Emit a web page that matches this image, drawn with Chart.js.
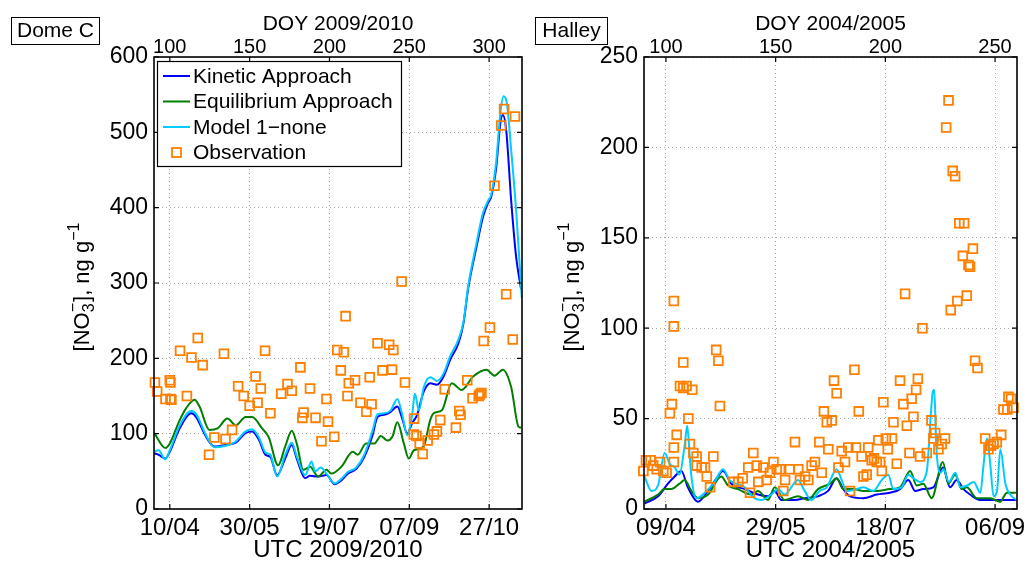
<!DOCTYPE html>
<html>
<head>
<meta charset="utf-8">
<script src="https://cdn.jsdelivr.net/npm/chart.js@4.4.0/dist/chart.umd.min.js"></script>
<style>
  html, body { margin: 0; padding: 0; background: #fff; }
  #wrap { position: relative; width: 1027px; height: 562px; overflow: hidden; }
  #cDome { position: absolute; left: 0; top: 0; }
  #cHal { position: absolute; left: 530px; top: 0; }
</style>
</head>
<body>
<div id="wrap">
  <canvas id="cDome" width="530" height="562"></canvas>
  <canvas id="cHal" width="497" height="562"></canvas>
</div>
<script>
// --- fonts & colours ---
const FONT = '"Liberation Sans", Arial, Helvetica, sans-serif';
const KIN_C = '#0000ff';
const EQ_C = '#007f00';
const MOD_C = '#00ccff';
const OBS_C = '#ff7f00';
const GRID_C = '#a8a8a8';

// --- Dome C (DOY 2009/2010) ---
const domeTickDoy = [100, 150, 200, 250, 300];
const domeTickDate = ['10/04', '30/05', '19/07', '07/09', '27/10'];

const domeKinDoy = [90.2,93,97.2,100,106.2,113.4,116.5,122.7,127.9,135.1,141.3,147.5,151.6,155.8,159.9,163,167.2,172.3,176.4,179.5,184.7,187.8,193,198.1,203.3,207.4,211.5,216.7,221.8,227,230.1,234.2,238.4,242.5,245.6,248.7,251.8,254.9,259.1,263.2,267.3,271.5,275.6,280.8,283.9,286.9,292.1,296.2,299.3,301.4,304.5,307,308.6,310.7,313.8,316.9,320];
const domeKinVal = [74,72,67,76,107,127,122,96,83,85,88,101,103,92,72,69,45,67,85,67,41,44,43,45,33,38,47,53,69,98,122,125,129,136,120,100,114,125,156,167,165,176,198,220,246,293,348,388,406,415,454,512,523,503,410,335,292];

const domeEqDoy = [90.2,97.2,100,106.2,110.3,115.5,118.6,124.8,129.9,136.1,141.3,147.5,151.6,157.8,162,167.8,172.3,176.4,179.5,183.6,187.8,193,198.1,201.2,207.4,214.6,217.7,222.9,228.1,232.2,236.3,239.4,242.5,246.6,249.7,252.9,259,263.1,265.2,270.4,276.6,282.8,290,298.3,303.4,308.6,313.8,318.5,320];
const domeEqVal = [101,81,87,118,134,145,136,105,107,120,111,122,122,107,95,58,83,104,87,52,56,43,52,47,56,76,72,87,87,97,91,96,115,87,67,78,83,118,127,131,167,158,176,185,177,185,162,109,108];

const domeModDoy = [90.2,93,97,100,106,113.4,116.5,122.7,127.9,135,141,147.5,151.6,155.8,159.9,163,167.2,172.3,176.4,179.5,184.7,188.8,191,194.5,198.1,203.3,207.4,211.5,216.7,221.8,227,230.1,234.2,238.4,242.5,245.6,248.7,251.8,253.5,256,259.1,263.2,267.3,271.5,275.6,280.8,283.9,287,292,296,299.3,301.4,304.5,307,309,311,313.8,316.9,320.5];
const domeModVal = [76,78,66,78,110,130,126,98,82,84,89,103,106,95,75,72,43,72,88,70,45,63,50,55,47,34,40,49,55,72,104,126,127,131,146,125,98,125,153,131,162,175,170,180,203,225,248,297,352,392,409,418,462,525,548,540,477,397,280];

const domeObsDoy = [90.7,92.1,97.3,100,100.4,100.4,101,106.4,110.7,113.6,117.5,120.6,124.6,127.9,133.9,134.9,139,142.8,146.3,150,153.7,155,157,159.7,163,169.8,173.7,176.4,181.8,183,183.8,187.8,191.3,195,198.1,199.1,203,204.9,207.1,209,210.1,211.3,212.1,216,219.4,223.1,225.2,226.4,230.1,233.2,237.4,239.2,240,245.2,247.3,252.8,253,254.5,256.5,258.4,261.5,265.4,267.3,269.4,272.2,279.2,281.3,282.1,286.3,289.6,293.5,294.1,295.2,296.6,300.5,303.4,307.6,309.4,310.7,314.8,316.2];
const domeObsVal = [168,156,146,171,168,146,145,210,150,201,227,191,72,95,206,93,105,163,150,137,176,141,160,210,127,153,166,157,188,121,128,160,121,90,146,116,96,211,184,208,256,150,167,171,141,129,175,139,220,184,218,185,211,302,168,99,120,97,87,73,91,99,103,118,159,108,130,125,171,147,150,152,154,223,241,429,509,531,285,225,521];

// --- Halley (DOY 2004/2005) ---
const halTickDoy = [100, 150, 200, 250];
const halTickDate = ['09/04', '29/05', '18/07', '06/09'];

const halKinDoy = [90.2,96.4,100.9,104,107,110,114.6,119.2,123.7,126,129.8,135.9,142,146.5,149.6,152.6,158.7,163.2,169.3,173.9,177.8,180.8,183.9,190,196.1,202.1,206.7,210.5,213.5,217.3,221.9,226.2,229.5,232.5,235.6,238.6,243.2,249.3,255.4,259.8];
const halKinVal = [3,7,14,18,21,12,4,10,18,21,14,11,8,7,10,5,5,6,7,10,17,11,7,6,8,9,11,16,10,11,12,23,12,16,11,8,5,5,5,5];

const halEqDoy = [90.2,96.4,99.4,102.4,106.2,108.5,111.6,114.6,119.2,125.2,128.3,132.8,138.9,142,146.5,149.6,154.1,160.2,164.8,169.3,174.8,177.8,180.8,185.4,190,196.1,202.1,206.7,211.3,214.3,217.3,221.1,226.2,228.7,231.8,234.8,237.1,241.7,247.8,252.3,255.4,259.5];
const halEqVal = [4,8,11,11,14,16,10,6,8,18,13,11,8,10,5,12,5,7,5,11,14,17,11,11,10,10,11,12,21,13,14,6,26,14,19,11,12,6,6,4,9,9];

const halModDoy = [90.2,93.4,96.4,99.4,101.7,104,106.2,108.5,109.7,110.8,111.6,113.9,117.7,122.2,126,129,135.9,140.4,143.5,148,151.1,154.1,160.2,163.2,166.3,170,173.3,177.8,180.1,182.4,186.9,190,194.5,198.3,201.3,203.6,207.4,210.5,212.8,215.8,218.9,220.5,221.5,222.3,223.2,225.1,226.6,228.9,231.9,234.2,237.3,240.3,243.3,244.8,246.3,247.8,249.3,250.9,252.4,254.7,256.9,259.8];
const halModVal = [18,10,13,31,25,23,19,35,46,30,18,6,9,15,22,16,12,6,5,8,11,8,16,10,5,10,12,22,16,10,11,12,10,16,19,11,12,19,17,15,21,48,64,66,35,20,22,15,20,12,13,15,9,25,39,25,7,10,33,14,8,5];

const halObsDoy = [89.7,90.9,93,94.2,95.8,97.3,98.8,100.3,101.8,102.7,103.6,103.6,103.6,103.6,104.9,106.4,107.9,107.9,109.4,110.2,110.9,112,112.5,114,114,116.3,117.8,118.6,120.1,121.6,122.9,123.9,124.6,130.7,133,135,137.5,138.3,139.8,141.4,142.1,144.4,145.9,147.4,149,150.5,152,153.5,154.3,156.5,158.8,160.3,161.1,163.4,164.9,166.4,167.9,169.9,171,172,173.3,174,175.6,176.6,177.8,178.6,180.1,181.6,183.1,183.9,185.9,186.6,187.9,189.2,190,191.5,192.2,193.8,194.8,196.1,196.8,197.6,198.4,199.1,200.2,201.1,203,203.7,205.2,206.7,208.2,209,209.8,211,212,212.8,214,214.8,215.8,216.9,218.9,221,221.9,222.7,224.2,225.7,227.2,227.7,228.8,229.8,230.7,231.8,232.8,233.7,235.3,235.9,237.1,237.9,238.6,239.9,240.9,242,245.5,247,248.1,249.3,250.8,252.8,253.8,255.6,256.1,257.3,258.4];
const halObsVal = [21,27,27,24,22,26,21,20,53,58,115,101,34,26,41,68,81,67,68,50,36,66,31,29,24,23,23,18,12,29,88,82,57,15,15,17,23,9,31,24,15,23,16,20,26,22,22,10,16,22,37,22,16,18,16,24,26,37,20,54,48,33,49,71,64,23,32,26,34,10,77,34,54,29,18,19,34,27,28,26,38,26,21,59,39,33,39,48,25,71,58,119,46,31,61,51,66,72,29,100,31,49,39,42,33,36,39,211,226,110,187,184,115,158,140,158,118,135,134,144,82,78,39,33,35,36,37,41,55,55,62,61,56];

// --- helpers ---
function pts(xs, ys) { return xs.map((x, i) => ({ x: x, y: ys[i] })); }

function lineSet(label, xs, ys, color, order) {
  return {
    label: label, data: pts(xs, ys), showLine: true,
    borderColor: color, backgroundColor: color, borderWidth: 2,
    pointRadius: 0, cubicInterpolationMode: 'monotone', order: order
  };
}

function obsSet(xs, ys) {
  return {
    label: 'Observation', data: pts(xs, ys), showLine: false,
    pointStyle: 'rect', pointRadius: 6.2, borderWidth: 1.8,
    borderColor: OBS_C, backgroundColor: 'rgba(0,0,0,0)', order: 0, clip: 12
  };
}

// y label: [NO3-], ng g-1 with sub/superscripts
function drawYTitle(ctx, cx, cy) {
  const big = '22px ' + FONT, small = '16px ' + FONT;
  ctx.font = big;
  const w1 = ctx.measureText('[NO').width;
  const w2 = ctx.measureText('], ng g').width;
  ctx.font = small;
  const w3 = Math.max(ctx.measureText('3').width, ctx.measureText('\u2212').width);
  const w4 = ctx.measureText('\u22121').width;
  const total = w1 + w3 + 1 + w2 + w4;
  ctx.save();
  ctx.translate(cx, cy);
  ctx.rotate(-Math.PI / 2);
  ctx.fillStyle = '#000';
  ctx.textBaseline = 'alphabetic';
  ctx.textAlign = 'left';
  const b = 8;
  let x = -total / 2;
  ctx.font = big; ctx.fillText('[NO', x, b); x += w1;
  ctx.font = small; ctx.fillText('3', x, b + 5); ctx.fillText('\u2212', x, b - 11); x += w3 + 1;
  ctx.font = big; ctx.fillText('], ng g', x, b); x += w2;
  ctx.font = small; ctx.fillText('\u22121', x, b - 10);
  ctx.restore();
}

// frame, inward ticks, site tag, y label and legend
const decor = {
  id: 'decor',
  afterDatasetsDraw(chart, args, o) {
    const { ctx, chartArea: a, scales } = chart;
    ctx.save();
    ctx.strokeStyle = '#000';
    ctx.lineWidth = 1.6;
    ctx.strokeRect(a.left, a.top, a.right - a.left, a.bottom - a.top);
    ctx.lineWidth = 1.2;
    ctx.beginPath();
    scales.x.ticks.forEach(t => {
      const p = scales.x.getPixelForValue(t.value);
      ctx.moveTo(p, a.bottom); ctx.lineTo(p, a.bottom - 5);
      ctx.moveTo(p, a.top); ctx.lineTo(p, a.top + 5);
    });
    scales.y.ticks.forEach(t => {
      const p = scales.y.getPixelForValue(t.value);
      ctx.moveTo(a.left, p); ctx.lineTo(a.left + 5, p);
      ctx.moveTo(a.right, p); ctx.lineTo(a.right - 5, p);
    });
    ctx.stroke();

    // site tag box
    const tb = o.tagBox;
    ctx.fillStyle = '#fff';
    ctx.fillRect(tb[0], tb[1], tb[2], tb[3]);
    ctx.lineWidth = 1;
    ctx.strokeRect(tb[0] + 0.5, tb[1] + 0.5, tb[2], tb[3]);
    ctx.fillStyle = '#000';
    ctx.font = '21px ' + FONT;
    ctx.textAlign = 'center';
    ctx.textBaseline = 'middle';
    ctx.fillText(o.tag, tb[0] + tb[2] / 2 + 0.5, tb[1] + tb[3] / 2 + 1);

    drawYTitle(ctx, o.ylabelX, (a.top + a.bottom) / 2 + 4);

    if (o.legend) {
      const lb = o.legend;
      ctx.fillStyle = '#fff';
      ctx.fillRect(lb[0], lb[1], lb[2], lb[3]);
      ctx.strokeStyle = '#000';
      ctx.lineWidth = 1.2;
      ctx.strokeRect(lb[0] + 0.5, lb[1] + 0.5, lb[2], lb[3]);
      ctx.font = '21px ' + FONT;
      ctx.textAlign = 'left';
      ctx.textBaseline = 'middle';
      chart.data.datasets.forEach((ds, i) => {
        const y = lb[1] + 15 + i * 25.5;
        if (ds.showLine) {
          ctx.strokeStyle = ds.borderColor;
          ctx.lineWidth = 2;
          ctx.beginPath(); ctx.moveTo(lb[0] + 6, y); ctx.lineTo(lb[0] + 33, y); ctx.stroke();
        } else {
          ctx.strokeStyle = ds.borderColor;
          ctx.lineWidth = 1.8;
          ctx.strokeRect(lb[0] + 15, y - 4.5, 9, 9);
        }
        ctx.fillStyle = '#000';
        ctx.fillText(ds.label, lb[0] + 36, y + 1);
      });
    }
    ctx.restore();
  }
};

function makeChart(id, cfg) {
  const tickFont = (size) => ({ family: FONT, size: size, lineHeight: 1 });
  return new Chart(document.getElementById(id), {
    type: 'scatter',
    data: { datasets: cfg.datasets },
    options: {
      responsive: false,
      animation: false,
      events: [],
      layout: { padding: { left: 0, right: cfg.padRight, top: 0, bottom: 0 } },
      scales: {
        x: {
          type: 'linear', position: 'bottom', min: cfg.xmin, max: cfg.xmax,
          afterBuildTicks: s => { s.ticks = cfg.tickDoy.map(v => ({ value: v })); },
          afterFit: s => { s.height = 53; s.paddingLeft = 0; s.paddingRight = 0; },
          ticks: {
            autoSkip: false, maxRotation: 0, minRotation: 0, padding: 7, color: '#000',
            font: tickFont(24),
            callback: v => cfg.tickDate[cfg.tickDoy.indexOf(v)]
          },
          grid: { drawTicks: false, color: GRID_C, lineWidth: 1 },
          border: { display: false, dash: [1, 3] },
          title: { display: true, text: cfg.bottomTitle, color: '#000', font: tickFont(24), padding: 0 }
        },
        x2: {
          type: 'linear', position: 'top', min: cfg.xmin, max: cfg.xmax,
          afterBuildTicks: s => { s.ticks = cfg.tickDoy.map(v => ({ value: v })); },
          afterFit: s => { s.height = 57; s.paddingLeft = 0; s.paddingRight = 0; },
          ticks: { autoSkip: false, maxRotation: 0, minRotation: 0, padding: 0, color: '#000', font: tickFont(20) },
          grid: { display: false, drawTicks: false },
          border: { display: false },
          title: { display: true, text: cfg.topTitle, color: '#000', font: tickFont(21), padding: { top: 14, bottom: 0 } }
        },
        y: {
          type: 'linear', min: 0, max: cfg.ymax,
          afterFit: s => { s.width = cfg.yWidth; s.paddingTop = 0; s.paddingBottom = 0; },
          ticks: { stepSize: cfg.ystep, padding: 6, color: '#000', font: tickFont(23) },
          grid: { drawTicks: false, color: GRID_C, lineWidth: 1 },
          border: { display: false, dash: [1, 3] }
        }
      },
      plugins: {
        legend: { display: false },
        tooltip: { enabled: false },
        decor: cfg.decor
      }
    },
    plugins: [decor]
  });
}

makeChart('cDome', {
  datasets: [
    lineSet('Kinetic Approach', domeKinDoy, domeKinVal, KIN_C, 3),
    lineSet('Equilibrium Approach', domeEqDoy, domeEqVal, EQ_C, 2),
    lineSet('Model 1\u2212none', domeModDoy, domeModVal, MOD_C, 1),
    obsSet(domeObsDoy, domeObsVal)
  ],
  xmin: 90.1, xmax: 320.6, ymax: 600, ystep: 100,
  tickDoy: domeTickDoy, tickDate: domeTickDate,
  topTitle: 'DOY 2009/2010', bottomTitle: 'UTC 2009/2010',
  yWidth: 154, padRight: 4,
  decor: { tag: 'Dome C', tagBox: [11, 17, 88, 27], ylabelX: 81, legend: [157, 61, 244, 105] }
});

makeChart('cHal', {
  datasets: [
    lineSet('Kinetic Approach', halKinDoy, halKinVal, KIN_C, 3),
    lineSet('Equilibrium Approach', halEqDoy, halEqVal, EQ_C, 2),
    lineSet('Model 1\u2212none', halModDoy, halModVal, MOD_C, 1),
    obsSet(halObsDoy, halObsVal)
  ],
  xmin: 90, xmax: 260, ymax: 250, ystep: 50,
  tickDoy: halTickDoy, tickDate: halTickDate,
  topTitle: 'DOY 2004/2005', bottomTitle: 'UTC 2004/2005',
  yWidth: 114, padRight: 10,
  decor: { tag: 'Halley', tagBox: [5, 17, 72, 27], ylabelX: 41, legend: null }
});
</script>
</body>
</html>
